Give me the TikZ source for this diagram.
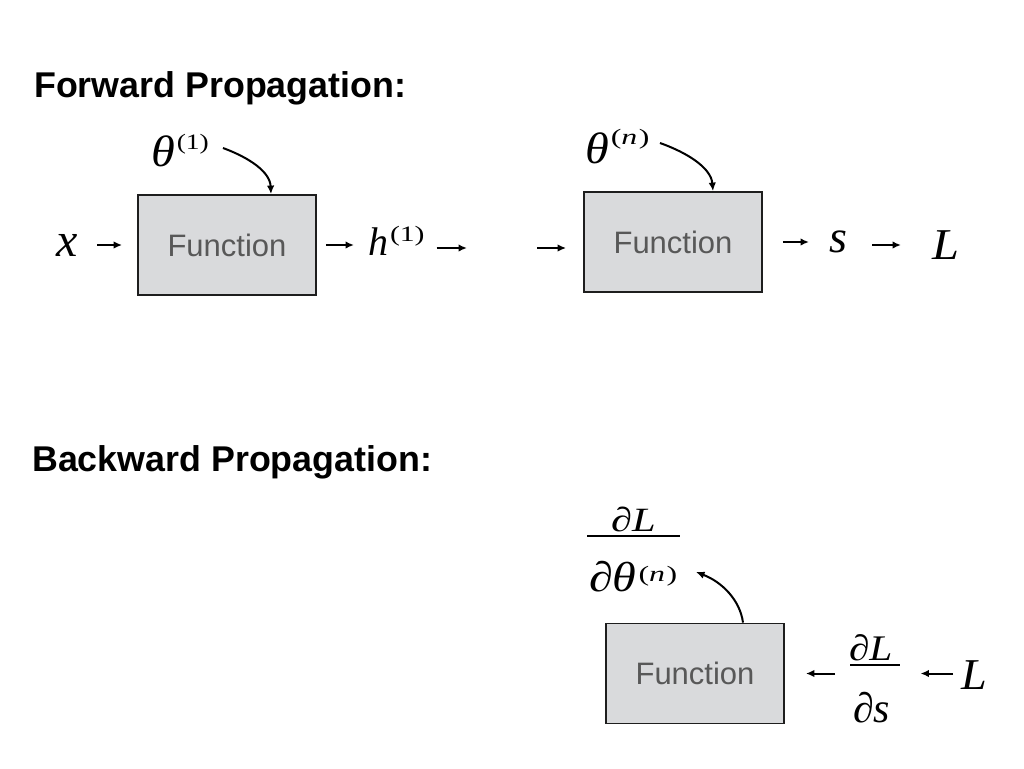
\documentclass[tikz,border=0pt]{standalone}
\usepackage{fontspec}
\setmainfont{Liberation Serif}
\newfontfamily\arialf{Liberation Sans}
\usetikzlibrary{arrows.meta}
\definecolor{boxfill}{RGB}{217,218,220}
\definecolor{boxline}{RGB}{30,30,30}
\definecolor{functxt}{RGB}{88,88,88}
\newcommand{\mi}[3]{\scalebox{#2}[1]{\fontsize{#1}{#1}\selectfont\itshape #3}}
\newcommand{\up}[3]{\scalebox{#2}[1]{\fontsize{#1}{#1}\selectfont #3}}
\begin{document}
\begin{tikzpicture}[x=1pt,y=-1pt,
  lab/.style={anchor=base west,inner sep=0pt,outer sep=0pt},
  hdr/.style={anchor=base west,inner sep=0pt,font=\arialf\bfseries\fontsize{35.8}{40}\selectfont},
  fbox/.style={draw=boxline,line width=1.8pt,fill=boxfill,minimum width=178pt,minimum height=100pt,inner sep=0pt,
    text=functxt,font=\arialf\fontsize{31}{34}\selectfont},
  arr/.style={line width=2pt,-{Latex[length=8.5pt,width=7.5pt]}},
  barline/.style={line width=2pt}]
\useasboundingbox (0,0) rectangle (1024,768);
% headers
\node[hdr] (fwd) at (34,97.7) {Forward Propagation:};
\node[hdr] (bwd) at (32,471.7) {Backward Propagation:};
% forward boxes
\node[fbox] (box1) at (227,245) {Function};
\node[fbox] (box2) at (673,242) {Function};
% forward labels
\node[lab] (x) at (56,256) {\mi{48}{1}{x}};
\node[lab] (th1) at (151,166) {\mi{44}{1.1}{θ}\kern2pt\raisebox{17pt}{\up{22}{1.25}{(1)}}};
\node[lab] (h1) at (368,255) {\mi{40}{1.0}{h}\kern2pt\raisebox{14pt}{\up{22}{1.35}{(1)}}};
\node[lab] (thn) at (585,163) {\mi{44}{1.1}{θ}\kern2pt\raisebox{19pt}{\up{22}{1.45}{(\textit{n}\kern1pt)}}};
\node[lab] (s) at (829,252) {\mi{46}{1}{s}};
\node[lab] (L1) at (932,259) {\mi{44}{1.1}{L}};
\coordinate (c1) at (467,248);
\coordinate (c2) at (537,248);
% forward arrows
\draw[arr,shorten <=20pt,shorten >=15pt] (x.east |- box1.west) -- (box1.west);
\draw[arr,shorten <=9pt,shorten >=14pt] (box1.east) -- (h1.west |- box1.east);
\draw[arr,shorten <=12pt] (h1.east |- c1) -- (c1);
\draw[arr,shorten >=17pt] (c2) -- (box2.west |- c2);
\draw[arr,shorten <=20pt,shorten >=20pt] (box2.east) -- (s.west |- box2.east);
\draw[arr,shorten <=43pt,shorten >=31pt] ([yshift=-3pt]box2.east -| s.west) -- ([yshift=-3pt]box2.east -| L1.west);
\coordinate (t1s) at (223,148);
\coordinate (t1e) at ([xshift=44pt]box1.north);
\draw[arr] (t1s) .. controls (250,158) and (270,172) .. (t1e);
\coordinate (tns) at (660,143);
\coordinate (tne) at ([xshift=40pt]box2.north);
\draw[arr] (tns) .. controls (688,153) and (711,168) .. (tne);
% backward
\node[fbox] (box3) at (695,673.5) {Function};
\node[lab] (n1) at (611,531) {\mi{34}{1.25}{∂L}};
\draw[barline] (587,536) -- (680,536);
\node[lab] (d1) at (589,591) {\mi{42}{1.15}{∂θ}\kern2pt\raisebox{10pt}{\up{22}{1.45}{(\textit{n}\kern1pt)}}};
\coordinate (b1e) at (696,572);
\coordinate (b1s) at ([xshift=48pt]box3.north);
\draw[arr] (b1s) .. controls (740,600) and (722,582) .. (b1e);
\node[lab] (n2) at (849,660) {\mi{36}{1.15}{∂L}};
\draw[barline] (850,665) -- (900,665);
\node[lab] (d2) at (853,722) {\mi{42}{1.0}{∂s}};
\node[lab] (L2) at (961,689) {\mi{44}{1.05}{L}};
\draw[arr,shorten <=8pt,shorten >=28pt] (L2.west |- box3.east) -- (n2.east |- box3.east);
\draw[arr,shorten <=14pt,shorten >=21pt] (n2.west |- box3.east) -- (box3.east);
\end{tikzpicture}
\end{document}
